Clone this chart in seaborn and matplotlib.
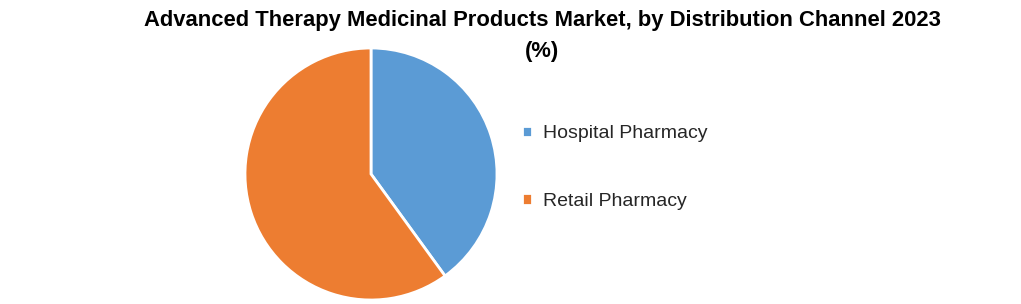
import matplotlib
matplotlib.use("Agg")
import matplotlib.pyplot as plt
import seaborn as sns

sns.set_theme(style="white")
plt.rcParams['font.family'] = ['Liberation Sans', 'DejaVu Sans']

categories = ["Hospital Pharmacy", "Retail Pharmacy"]
values = [40, 60]
colors = ["#5B9BD5", "#ED7D31"]
title = "Advanced Therapy Medicinal Products Market, by Distribution Channel 2023\n(%)"

W, H = 1021, 304
fig = plt.figure(figsize=(W / 100, H / 100), dpi=100)
fig.patch.set_facecolor("white")

cx, cy, r = 371, 174, 126
ax = fig.add_axes([(cx - r) / W, (H - cy - r) / H, 2 * r / W, 2 * r / H])
wedges, _ = ax.pie(values, colors=colors, startangle=90, counterclock=False,
                   wedgeprops=dict(edgecolor="white", linewidth=2), radius=1)
ax.set_xlim(-1, 1)
ax.set_ylim(-1, 1)
ax.set_aspect("equal")
ax.axis("off")

fig.text(542 / W, 1 - 10 / H, title, ha="center", va="top", fontsize=15.8,
         fontweight="bold", color="black", linespacing=1.6)

leg = fig.legend(wedges, categories, loc="upper left",
                 bbox_to_anchor=(504 / W, 1 - 108 / H), frameon=False,
                 fontsize=14, handlelength=0.55, handleheight=0.55,
                 handletextpad=0.55, labelspacing=2.6)
for t in leg.get_texts():
    t.set_color("#262626")

fig.savefig("out.png", dpi=100, facecolor="white")
